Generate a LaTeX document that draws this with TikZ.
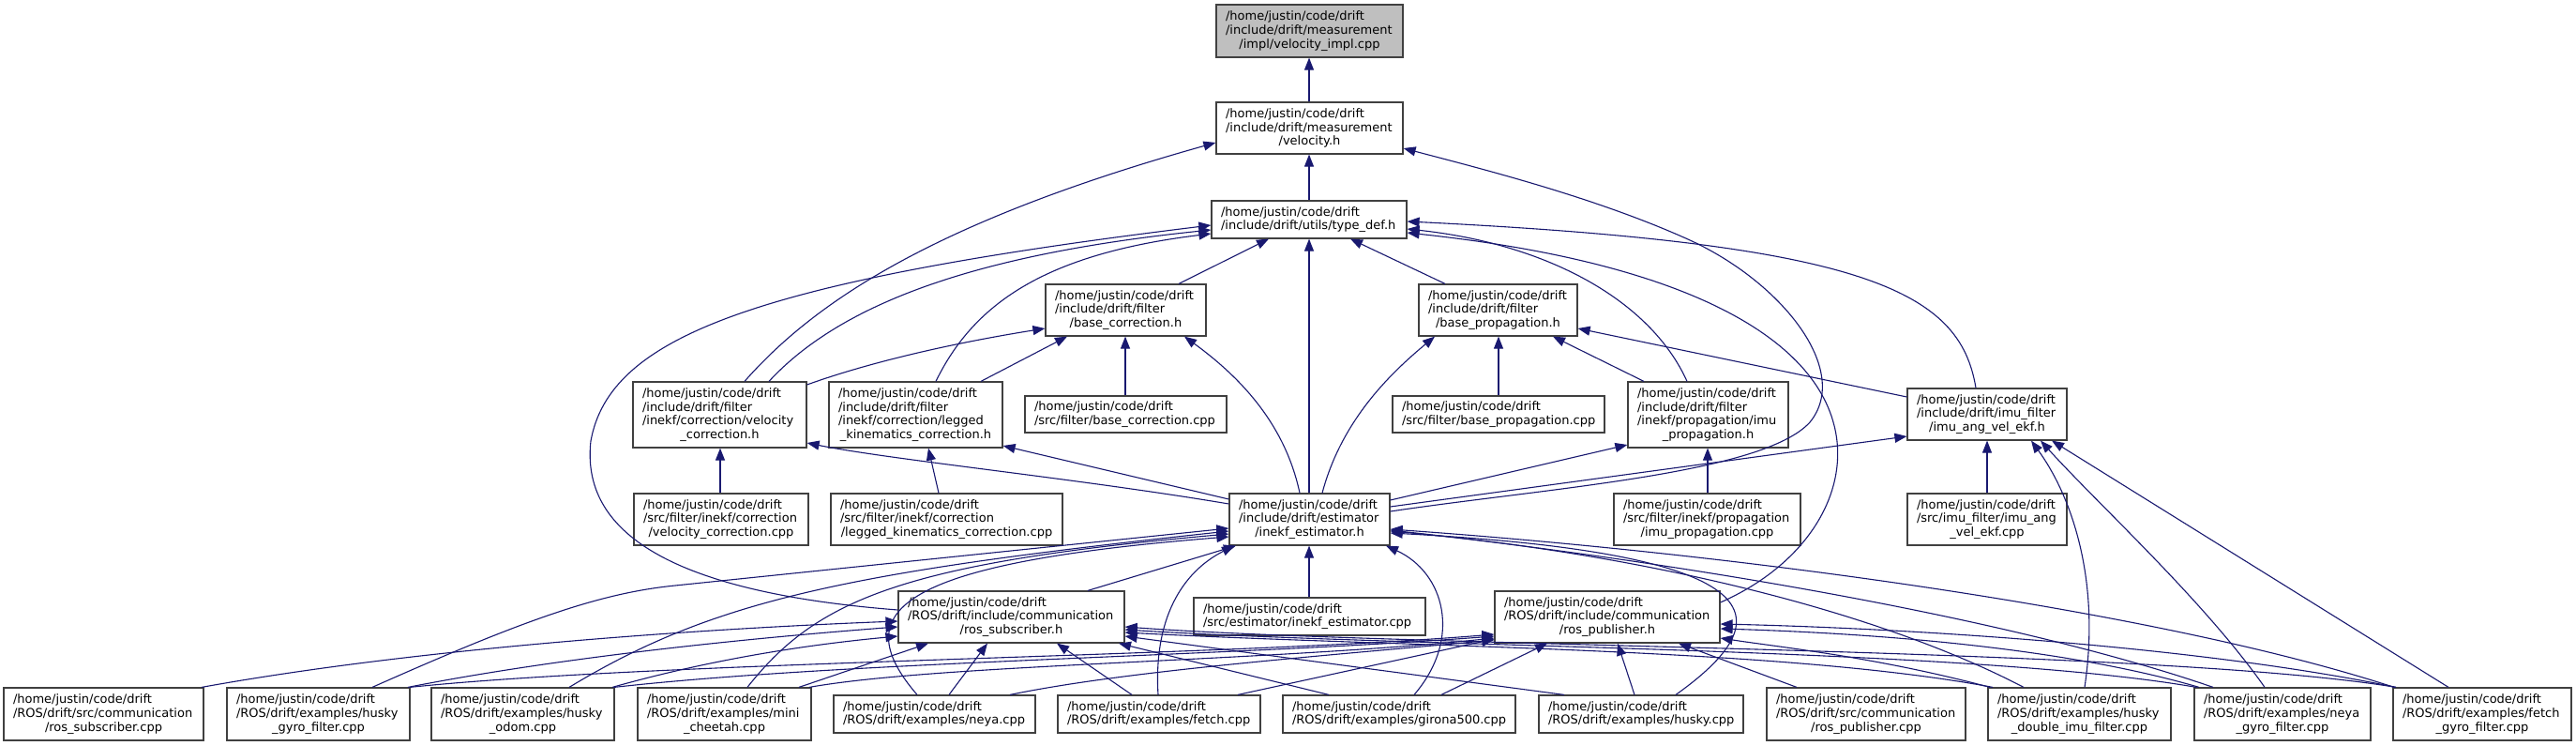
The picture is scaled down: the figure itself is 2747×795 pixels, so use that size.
\documentclass[tikz,border=0pt]{standalone}
\usepackage{fontspec}
\setmainfont{DejaVu Sans}
\usetikzlibrary{arrows.meta}
\definecolor{edgec}{RGB}{25,25,112}
\definecolor{boxc}{RGB}{64,64,64}
\definecolor{rootc}{RGB}{191,191,191}
\hyphenpenalty=10000
\exhyphenpenalty=10000
\newcommand\cl[1]{\leavevmode\hspace*{\fill}#1\hspace*{\fill}\nobreak\null}
\newcommand\ddbox[7][]{%
 \pgfmathsetmacro\bw{#5-#3}\pgfmathsetmacro\bh{#6-#4}\pgfmathsetmacro\tw{#5-#3-20}%
 \pgfmathsetmacro\cx{(#3+#5)/2}\pgfmathsetmacro\cy{(#4+#6)/2}%
 \node[dnode,#1,minimum width=\bw pt,minimum height=\bh pt,text width=\tw pt] (#2) at (\cx,\cy) {#7};}
\begin{document}
\begin{tikzpicture}[x=1pt,y=-1pt,
 dnode/.style={draw=boxc,line width=1.2pt,fill=white,inner xsep=10pt,inner ysep=0pt,align=left,
   font=\fontsize{13}{14.7}\selectfont},
 dep/.style={draw=edgec,line width=1.1pt,-{Triangle[width=10pt,length=13pt]}}]
\fill[white] (0,0) rectangle (2747,795);
\useasboundingbox (0,0) rectangle (2747,795);
% nodes
\ddbox[fill=rootc]{impl}{1297}{5}{1496}{61}{/home/justin/code/drift\\/include/drift/measurement\\\cl{/impl/velocity\_impl.cpp}}
\ddbox{vel}{1297}{109}{1496}{164}{/home/justin/code/drift\\/include/drift/measurement\\\cl{/velocity.h}}
\ddbox{td}{1292}{214}{1500}{254}{/home/justin/code/drift\\/include/drift/utils/type\_def.h}
\ddbox{bch}{1115}{303}{1286}{358}{/home/justin/code/drift\\/include/drift/filter\\\cl{/base\_correction.h}}
\ddbox{bph}{1513}{303}{1682}{358}{/home/justin/code/drift\\/include/drift/filter\\\cl{/base\_propagation.h}}
\ddbox{vch}{675}{407}{860}{477}{/home/justin/code/drift\\/include/drift/filter\\/inekf/correction/velocity\\\cl{\_correction.h}}
\ddbox{lkh}{884}{407}{1069}{477}{/home/justin/code/drift\\/include/drift/filter\\/inekf/correction/legged\\\cl{\_kinematics\_correction.h}}
\ddbox{bcc}{1093}{422}{1308}{461}{/home/justin/code/drift\\/src/filter/base\_correction.cpp}
\ddbox{bpc}{1485}{422}{1711}{461}{/home/justin/code/drift\\/src/filter/base\_propagation.cpp}
\ddbox{iph}{1736}{407}{1907}{477}{/home/justin/code/drift\\/include/drift/filter\\/inekf/propagation/imu\\\cl{\_propagation.h}}
\ddbox{iah}{2034}{414}{2204}{469}{/home/justin/code/drift\\/include/drift/imu\_filter\\\cl{/imu\_ang\_vel\_ekf.h}}
\ddbox{vcc}{676}{526}{862}{581}{/home/justin/code/drift\\/src/filter/inekf/correction\\\cl{/velocity\_correction.cpp}}
\ddbox{lkc}{886}{526}{1133}{581}{/home/justin/code/drift\\/src/filter/inekf/correction\\\cl{/legged\_kinematics\_correction.cpp}}
\ddbox{ieh}{1311}{526}{1482}{581}{/home/justin/code/drift\\/include/drift/estimator\\\cl{/inekf\_estimator.h}}
\ddbox{ipc}{1721}{526}{1920}{581}{/home/justin/code/drift\\/src/filter/inekf/propagation\\\cl{/imu\_propagation.cpp}}
\ddbox{iac}{2034}{526}{2204}{581}{/home/justin/code/drift\\/src/imu\_filter/imu\_ang\\\cl{\_vel\_ekf.cpp}}
\ddbox{rsh}{958}{630}{1199}{685}{/home/justin/code/drift\\/ROS/drift/include/communication\\\cl{/ros\_subscriber.h}}
\ddbox{iec}{1273}{637}{1520}{677}{/home/justin/code/drift\\/src/estimator/inekf\_estimator.cpp}
\ddbox{rph}{1594}{630}{1834}{685}{/home/justin/code/drift\\/ROS/drift/include/communication\\\cl{/ros\_publisher.h}}
\ddbox{rsc}{4}{733}{217}{789}{/home/justin/code/drift\\/ROS/drift/src/communication\\\cl{/ros\_subscriber.cpp}}
\ddbox{hgf}{242}{733}{437}{789}{/home/justin/code/drift\\/ROS/drift/examples/husky\\\cl{\_gyro\_filter.cpp}}
\ddbox{hod}{460}{733}{655}{789}{/home/justin/code/drift\\/ROS/drift/examples/husky\\\cl{\_odom.cpp}}
\ddbox{mch}{680}{733}{865}{789}{/home/justin/code/drift\\/ROS/drift/examples/mini\\\cl{\_cheetah.cpp}}
\ddbox{neya}{889}{741}{1104}{781}{/home/justin/code/drift\\/ROS/drift/examples/neya.cpp}
\ddbox{fetch}{1128}{741}{1344}{781}{/home/justin/code/drift\\/ROS/drift/examples/fetch.cpp}
\ddbox{gir}{1368}{741}{1616}{781}{/home/justin/code/drift\\/ROS/drift/examples/girona500.cpp}
\ddbox{husky}{1641}{741}{1859}{781}{/home/justin/code/drift\\/ROS/drift/examples/husky.cpp}
\ddbox{rpc}{1884}{733}{2096}{789}{/home/justin/code/drift\\/ROS/drift/src/communication\\\cl{/ros\_publisher.cpp}}
\ddbox{hdi}{2120}{733}{2315}{789}{/home/justin/code/drift\\/ROS/drift/examples/husky\\\cl{\_double\_imu\_filter.cpp}}
\ddbox{ngf}{2340}{733}{2528}{789}{/home/justin/code/drift\\/ROS/drift/examples/neya\\\cl{\_gyro\_filter.cpp}}
\ddbox{fgf}{2552}{733}{2742}{789}{/home/justin/code/drift\\/ROS/drift/examples/fetch\\\cl{\_gyro\_filter.cpp}}
% edges (tail = including file, head = included file)
\draw[dep] (vel.north -| 1396,0) -- (impl.south -| 1396,0);
\draw[dep] (td.north -| 1396,0) -- (vel.south -| 1396,0);
\draw[dep] (vch.north -| 794,0) .. controls (870,320) and (1000,235) .. (vel.west |- 0,152);
\draw[dep] (ieh.east |- 0,545) .. controls (1650,520) and (1880,505) .. (1930,450) .. controls (1975,395) and (1900,300) .. (1800,255) .. controls (1700,210) and (1580,180) .. (vel.east |- 0,158);
\draw[dep] (bch.north -| 1257,0) -- (td.south -| 1353,0);
\draw[dep] (bph.north -| 1541,0) -- (td.south -| 1440,0);
\draw[dep] (ieh.north -| 1396,0) -- (td.south -| 1396,0);
\draw[dep] (vch.north -| 820,0) .. controls (900,320) and (1050,270) .. (td.west |- 0,245);
\draw[dep] (lkh.north -| 998,0) .. controls (1040,320) and (1120,270) .. (td.west |- 0,249);
\draw[dep] (rsh.west |- 0,650) .. controls (700,630) and (620,560) .. (630,470) .. controls (650,360) and (800,300) .. (td.west |- 0,240);
\draw[dep] (iph.north -| 1799,0) .. controls (1760,320) and (1650,260) .. (td.east |- 0,244);
\draw[dep] (rph.east |- 0,642) .. controls (1930,600) and (1975,520) .. (1955,450) .. controls (1930,360) and (1800,280) .. (td.east |- 0,248);
\draw[dep] (iah.north -| 2107,0) .. controls (2090,310) and (1990,260) .. (td.east |- 0,236);
\draw[dep] (vch.east |- 0,410) .. controls (930,385) and (1020,365) .. (bch.west |- 0,350);
\draw[dep] (lkh.north -| 1046,0) -- (bch.south -| 1138,0);
\draw[dep] (bcc.north -| 1200,0) -- (bch.south -| 1200,0);
\draw[dep] (ieh.north -| 1386,0) .. controls (1370,450) and (1320,400) .. (bch.south -| 1263,0);
\draw[dep] (bpc.north -| 1598,0) -- (bph.south -| 1598,0);
\draw[dep] (iph.north -| 1753,0) -- (bph.south -| 1656,0);
\draw[dep] (iah.west |- 0,423) -- (bph.east |- 0,350);
\draw[dep] (ieh.north -| 1410,0) .. controls (1430,450) and (1480,400) .. (bph.south -| 1530,0);
\draw[dep] (vcc.north -| 768,0) -- (vch.south -| 768,0);
\draw[dep] (ieh.west |- 0,537) .. controls (1150,510) and (950,490) .. (vch.east |- 0,472);
\draw[dep] (lkc.north -| 1001,0) -- (lkh.south -| 990,0);
\draw[dep] (ieh.west |- 0,532) -- (lkh.east |- 0,475);
\draw[dep] (ipc.north -| 1821,0) -- (iph.south -| 1821,0);
\draw[dep] (ieh.east |- 0,533) -- (iph.west |- 0,474);
\draw[dep] (iac.north -| 2119,0) -- (iah.south -| 2119,0);
\draw[dep] (ieh.east |- 0,540) -- (iah.west |- 0,465);
\draw[dep] (hdi.north -| 2223,0) .. controls (2240,620) and (2210,530) .. (iah.south -| 2166,0);
\draw[dep] (ngf.north -| 2415,0) .. controls (2350,640) and (2240,540) .. (iah.south -| 2176,0);
\draw[dep] (fgf.north -| 2611,0) -- (iah.south -| 2188,0);
% to inekf_estimator.h
\draw[dep] (rsh.north -| 1160,0) -- (ieh.south -| 1318,0);
\draw[dep] (iec.north -| 1396,0) -- (ieh.south -| 1396,0);
\draw[dep] (gir.north -| 1508,0) .. controls (1560,680) and (1540,610) .. (ieh.south -| 1478,0);
\draw[dep] (hgf.north -| 397,0) .. controls (560,660) and (640,632) .. (720,624) -- (ieh.west |- 0,563);
\draw[dep] (hod.north -| 607,0) .. controls (760,640) and (900,610) .. (ieh.west |- 0,566);
\draw[dep] (mch.north -| 797,0) .. controls (870,640) and (960,600) .. (ieh.west |- 0,569);
\draw[dep] (neya.north -| 978,0) .. controls (900,650) and (960,600) .. (ieh.west |- 0,572);
\draw[dep] (fetch.north -| 1235,0) .. controls (1230,660) and (1260,610) .. (ieh.south -| 1316,0);
\draw[dep] (husky.north -| 1787,0) .. controls (1900,660) and (1900,590) .. (ieh.east |- 0,568);
\draw[dep] (hdi.north -| 2158,0) .. controls (2000,650) and (1750,590) .. (ieh.east |- 0,566);
\draw[dep] (ngf.north -| 2360,0) .. controls (2150,660) and (1800,600) .. (ieh.east |- 0,565);
\draw[dep] (fgf.north -| 2553,0) .. controls (2300,650) and (1850,590) .. (ieh.east |- 0,564);
% to ros_subscriber.h
\draw[dep] (rsc.north -| 215,0) .. controls (450,690) and (750,670) .. (rsh.west |- 0,662);
\draw[dep] (hgf.north -| 435,0) .. controls (600,700) and (800,680) .. (rsh.west |- 0,668);
\draw[dep] (hod.north -| 653,0) .. controls (750,705) and (850,688) .. (rsh.west |- 0,678);
\draw[dep] (mch.north -| 852,0) -- (rsh.south -| 990,0);
\draw[dep] (neya.north -| 1012,0) -- (rsh.south -| 1053,0);
\draw[dep] (fetch.north -| 1207,0) -- (rsh.south -| 1127,0);
\draw[dep] (gir.north -| 1417,0) -- (rsh.south -| 1193,0);
\draw[dep] (husky.north -| 1668,0) -- (rsh.east |- 0,678);
\draw[dep] (hdi.north -| 2125,0) .. controls (1900,690) and (1500,690) .. (rsh.east |- 0,674);
\draw[dep] (ngf.north -| 2342,0) .. controls (2100,690) and (1500,690) .. (rsh.east |- 0,671);
\draw[dep] (fgf.north -| 2555,0) .. controls (2300,690) and (1500,690) .. (rsh.east |- 0,668);
% to ros_publisher.h
\draw[dep] (hgf.north -| 437,0) .. controls (700,705) and (1300,700) .. (rph.west |- 0,676);
\draw[dep] (hod.north -| 655,0) .. controls (900,705) and (1300,700) .. (rph.west |- 0,678);
\draw[dep] (mch.north -| 863,0) .. controls (1000,708) and (1350,705) .. (rph.west |- 0,680);
\draw[dep] (neya.north -| 1077,0) .. controls (1200,715) and (1400,700) .. (rph.west |- 0,682);
\draw[dep] (fetch.north -| 1320,0) -- (rph.west |- 0,681);
\draw[dep] (gir.north -| 1537,0) -- (rph.south -| 1650,0);
\draw[dep] (husky.north -| 1743,0) -- (rph.south -| 1725,0);
\draw[dep] (rpc.north -| 1916,0) -- (rph.south -| 1790,0);
\draw[dep] (hdi.north -| 2122,0) .. controls (2000,700) and (1900,690) .. (rph.east |- 0,680);
\draw[dep] (ngf.north -| 2345,0) .. controls (2200,690) and (2000,675) .. (rph.east |- 0,670);
\draw[dep] (fgf.north -| 2555,0) .. controls (2350,690) and (2050,670) .. (rph.east |- 0,665);
\end{tikzpicture}
\end{document}
